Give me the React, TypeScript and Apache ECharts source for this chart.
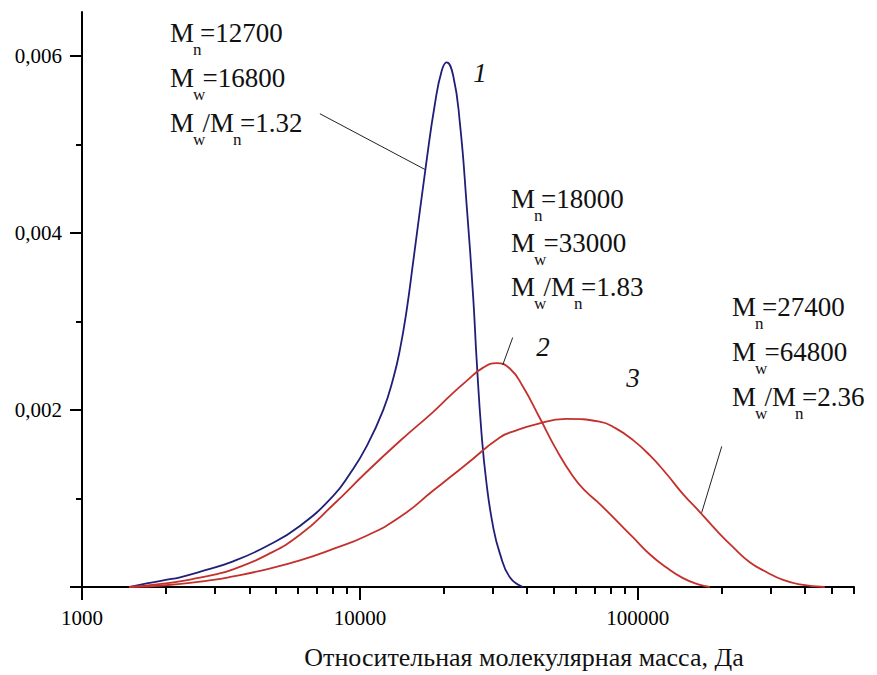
import React, { useEffect, useRef } from "react";
import * as echarts from "echarts";

// ---------- data (molar mass, Da ; fraction) ----------
const curve1M = [1490, 1710, 2000, 2254, 2650, 3500, 4614, 6083, 8017, 9206, 10570, 12130, 13190, 13930, 14720, 15560, 17380, 18620, 19680, 20510, 21670, 22910, 24220, 25590, 26300, 27410, 28560, 30170, 31890, 34640, 38690];
const curve1V = [0, 0.00004, 0.00008, 0.00011, 0.00017, 0.00029, 0.00046, 0.00069, 0.00103, 0.00128, 0.00159, 0.002, 0.00236, 0.00268, 0.00312, 0.00368, 0.00482, 0.00546, 0.00583, 0.00593, 0.00578, 0.00524, 0.00432, 0.00326, 0.00258, 0.00173, 0.00117, 0.00068, 0.00038, 0.00011, 0];

const curve2M = [1480, 2000, 2500, 3000, 3500, 4614, 6083, 8017, 10570, 13930, 18370, 21090, 24220, 27770, 31020, 34640, 38690, 44410, 51000, 58500, 65000, 72900, 96200, 110400, 126800, 145500, 165000, 181600];
const curve2V = [0, 0.00004, 0.00009, 0.00014, 0.0002, 0.00036, 0.00059, 0.00093, 0.0013, 0.00165, 0.00198, 0.00216, 0.00233, 0.00248, 0.00253, 0.00247, 0.00226, 0.00191, 0.00155, 0.00125, 0.00108, 0.00094, 0.00056, 0.00037, 0.00022, 0.0001, 0.00003, 0];

const curve3M = [1480, 2000, 2967, 3500, 4614, 6083, 8017, 10570, 13930, 18370, 21090, 24220, 31890, 36610, 42020, 55400, 72900, 83700, 96200, 110400, 126800, 145500, 167000, 191900, 220300, 252900, 290300, 333400, 382700, 471000];
const curve3V = [0, 0.00002, 0.00008, 0.00012, 0.0002, 0.0003, 0.00043, 0.00058, 0.00079, 0.00109, 0.00124, 0.00139, 0.00169, 0.00177, 0.00183, 0.0019, 0.00187, 0.00179, 0.00166, 0.00149, 0.00128, 0.00105, 0.00085, 0.00064, 0.00045, 0.00028, 0.00017, 0.00008, 0.00003, 0];

const xMajorTicks = [1000, 10000, 100000];
const xMinorTicks = [2000, 3000, 4000, 5000, 6000, 7000, 8000, 9000, 20000, 30000, 40000, 50000, 60000, 70000, 80000, 90000, 200000, 300000, 400000, 500000, 600000];
const xMin = 1000;
const xMax = 600000;
const yMajorTicks = [0, 0.002, 0.004, 0.006];
const yLabelTicks = [0.002, 0.004, 0.006];
const yMinorTicks = [0.001, 0.003, 0.005];
const yMax = 0.0065;

const stats1 = { Mn: "12700", Mw: "16800", ratio: "1.32" };
const stats2 = { Mn: "18000", Mw: "33000", ratio: "1.83" };
const stats3 = { Mn: "27400", Mw: "64800", ratio: "2.36" };

// leader lines: [M1, v1, M2, v2]
const leader1 = [7178, 0.00535, 17140, 0.00472];
const leader2 = [35480, 0.00282, 32660, 0.00251];
const leader3 = [200600, 0.00159, 169800, 0.00084];

const xTitle = "Относительная молекулярная масса, Да";

const FONT = '"Liberation Serif", "Times New Roman", serif';
const BLUE = "#1f1f78";
const RED = "#c4302b";

const lg = (v: number) => Math.log10(v);

function measure(text: string, size: number) {
  const c = document.createElement("canvas").getContext("2d")!;
  c.font = `${size}px ${FONT}`;
  return c.measureText(text).width;
}

type Seg = { t: string; sub?: boolean };

function rowElements(x: number, yc: number, segs: Seg[]) {
  const MAIN = 27;
  const SUB = 17;
  const els: any[] = [];
  let cx = x;
  for (const s of segs) {
    if (s.sub) {
      const w = measure(s.t, SUB);
      els.push({
        type: "text",
        x: cx - 1,
        y: yc + 16,
        style: { text: s.t, font: `${SUB}px ${FONT}`, fill: "#111", verticalAlign: "middle", align: "left" },
      });
      cx += w * 0.7;
    } else {
      const w = measure(s.t, MAIN);
      els.push({
        type: "text",
        x: cx,
        y: yc,
        style: { text: s.t, font: `${MAIN}px ${FONT}`, fill: "#111", verticalAlign: "middle", align: "left" },
      });
      cx += w;
    }
  }
  return els;
}

function block(x: number, y0: number, gap: number, st: { Mn: string; Mw: string; ratio: string }) {
  return [
    ...rowElements(x, y0, [{ t: "M" }, { t: "n", sub: true }, { t: "=" + st.Mn }]),
    ...rowElements(x, y0 + gap, [{ t: "M" }, { t: "w", sub: true }, { t: "=" + st.Mw }]),
    ...rowElements(x, y0 + 2 * gap, [{ t: "M" }, { t: "w", sub: true }, { t: "/M" }, { t: "n", sub: true }, { t: "=" + st.ratio }]),
  ];
}

function leader(l: number[]) {
  return [{ coord: [lg(l[0]), l[1]] }, { coord: [lg(l[2]), l[3]] }];
}

export default function App() {
  const ref = useRef<HTMLDivElement>(null);
  useEffect(() => {
    document.body.style.margin = "0";
    const chart = echarts.init(ref.current!, null, { renderer: "svg" });
    const axisLineStyle = { color: "#000", width: 2 };
    const leaderStyle = {
      silent: true,
      symbol: "none",
      label: { show: false },
      lineStyle: { color: "#222", width: 1, type: "solid" },
    };
    const option: any = {
      animation: false,
      backgroundColor: "#fff",
      grid: { left: 82, right: 23, top: 12, bottom: 88 },
      xAxis: [
        {
          type: "value",
          min: lg(xMin),
          max: lg(xMax),
          axisLine: { show: true, lineStyle: axisLineStyle },
          axisTick: { show: true, length: 13, customValues: xMajorTicks.map(lg), lineStyle: { width: 2, color: "#000" } },
          axisLabel: {
            customValues: xMajorTicks.map(lg),
            formatter: (v: number) => String(Math.round(Math.pow(10, v))),
            fontFamily: FONT,
            fontSize: 21,
            color: "#000",
            margin: 20,
          },
          splitLine: { show: false },
        },
        {
          type: "value",
          min: lg(xMin),
          max: lg(xMax),
          position: "bottom",
          axisLine: { show: false },
          axisTick: { show: true, length: 7, customValues: xMinorTicks.map(lg), lineStyle: { width: 2, color: "#000" } },
          axisLabel: { show: false },
          splitLine: { show: false },
        },
      ],
      yAxis: [
        {
          type: "value",
          min: 0,
          max: yMax,
          axisLine: { show: true, lineStyle: axisLineStyle },
          axisTick: { show: true, length: 12, customValues: yMajorTicks, lineStyle: { width: 2, color: "#000" } },
          axisLabel: {
            customValues: yLabelTicks,
            formatter: (v: number) => v.toFixed(3).replace(".", ","),
            fontFamily: FONT,
            fontSize: 21,
            color: "#000",
            margin: 20,
          },
          splitLine: { show: false },
        },
        {
          type: "value",
          min: 0,
          max: yMax,
          position: "left",
          axisLine: { show: false },
          axisTick: { show: true, length: 6, customValues: yMinorTicks, lineStyle: { width: 2, color: "#000" } },
          axisLabel: { show: false },
          splitLine: { show: false },
        },
      ],
      series: [
        {
          type: "line",
          data: curve1M.map((m, i) => [lg(m), curve1V[i]]),
          showSymbol: false,
          smooth: 0.5,
          lineStyle: { color: BLUE, width: 1.8 },
          z: 3,
          markLine: { ...leaderStyle, data: [leader(leader1)] },
        },
        {
          type: "line",
          data: curve2M.map((m, i) => [lg(m), curve2V[i]]),
          showSymbol: false,
          smooth: 0.5,
          lineStyle: { color: RED, width: 1.8 },
          markLine: { ...leaderStyle, data: [leader(leader2)] },
        },
        {
          type: "line",
          data: curve3M.map((m, i) => [lg(m), curve3V[i]]),
          showSymbol: false,
          smooth: 0.5,
          lineStyle: { color: RED, width: 1.8 },
          markLine: { ...leaderStyle, data: [leader(leader3)] },
        },
      ],
      graphic: [
        ...block(170, 33, 45, stats1),
        ...block(511, 199, 44, stats2),
        ...block(732, 307, 45, stats3),
        { type: "text", x: 480, y: 73, style: { text: "1", font: `italic 27px ${FONT}`, fill: "#111", align: "center", verticalAlign: "middle" } },
        { type: "text", x: 543, y: 347, style: { text: "2", font: `italic 27px ${FONT}`, fill: "#111", align: "center", verticalAlign: "middle" } },
        { type: "text", x: 633, y: 378, style: { text: "3", font: `italic 27px ${FONT}`, fill: "#111", align: "center", verticalAlign: "middle" } },
        { type: "text", x: 524, y: 657, style: { text: xTitle, font: `26px ${FONT}`, fill: "#111", align: "center", verticalAlign: "middle" } },
      ],
    };
    chart.setOption(option);
    return () => chart.dispose();
  }, []);
  return <div ref={ref} style={{ width: 877, height: 675 }} />;
}
